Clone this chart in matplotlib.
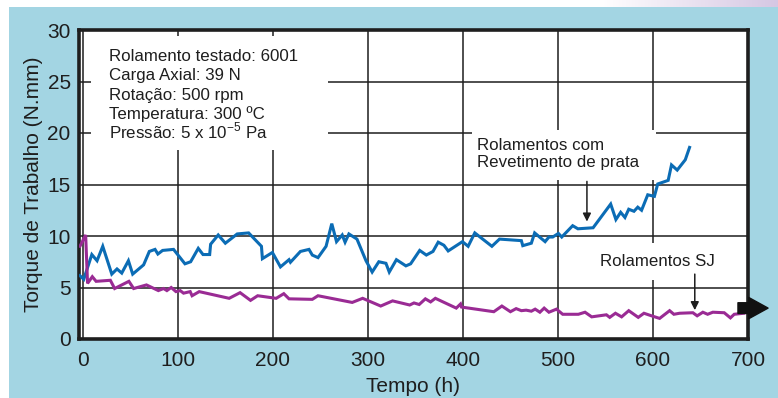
import numpy as np
import matplotlib
matplotlib.use("Agg")
import matplotlib.pyplot as plt
from matplotlib.patches import Rectangle

plt.rcParams['font.family'] = ['Liberation Sans', 'DejaVu Sans']

# Torque over time for the silver coated bearings (blue)
prata_t = [-3, 1, 9.5, 15, 21, 30.5, 36, 41, 48, 52.5, 64, 70, 76, 79, 84, 95.5,
           107.5, 113.5, 121.5, 126.5, 133.5, 134.5, 142.5, 150, 162.5, 174.5,
           188, 189, 199.5, 208, 217, 218.5, 229, 238, 241.5, 247.5, 256, 262,
           267, 273, 276, 280, 288.5, 298, 304.5, 311.5, 319, 322.5, 330, 340,
           345, 354.5, 361.5, 368.5, 374, 380, 384.5, 399.5, 405.5, 412.5, 430.5,
           438.5, 461.5, 463, 472, 475.5, 486.5, 490.5, 494.5, 500.5, 504, 515.5,
           521, 537, 555.5, 561, 566, 570.5, 574.5, 580, 584, 588, 594.5, 601.5,
           605, 616, 619.5, 625.5, 634, 638.5]
prata_torque = [6.15, 5.8, 8.2, 7.6, 9.0, 6.3, 6.8, 6.4, 7.6, 6.3, 7.2, 8.5, 8.7,
                8.25, 8.6, 8.7, 7.3, 7.5, 8.8, 8.2, 8.2, 9.2, 10.1, 9.3, 10.2, 10.3,
                9.0, 7.8, 8.4, 7.0, 7.7, 7.45, 8.5, 8.7, 8.15, 7.9, 9.0, 11.2, 9.45,
                10.1, 9.4, 10.2, 9.7, 7.6, 6.5, 7.5, 7.35, 6.5, 7.7, 7.1, 7.3, 8.6,
                8.15, 8.5, 9.4, 9.1, 8.55, 9.45, 9.0, 10.3, 9.0, 9.7, 9.55, 9.06,
                9.3, 10.3, 9.45, 9.9, 9.9, 10.25, 9.9, 11.0, 10.7, 10.8, 13.1, 11.6,
                12.3, 11.8, 12.6, 12.4, 12.8, 12.5, 14.0, 13.85, 15.05, 15.4, 16.9,
                16.4, 17.4, 18.6]

# Torque over time for the SJ bearings (purple)
sj_t = [-3, 3, 5, 10, 14, 29, 33.5, 48.5, 53.5, 67, 79.5, 85, 88.5, 93, 98,
        102.5, 106, 113, 115, 122.5, 154, 165.5, 176.5, 184, 203.5, 211.5, 217,
        241.5, 247.5, 283.5, 294.5, 313.5, 326, 344, 348.5, 354, 360.5, 366, 371,
        393, 397.5, 398.5, 432.5, 441, 450, 456, 461.5, 466.5, 472, 476, 481,
        485.5, 490.5, 498.5, 505, 521.5, 528.5, 535.5, 551, 554.5, 560.5, 567,
        574.5, 584.5, 590.5, 598.5, 607, 617.5, 622, 628, 642, 646.5, 652.5,
        657.5, 663, 675, 681.5, 685.5, 695.5]
sj_torque = [9.0, 10.1, 5.4, 6.05, 5.6, 5.7, 4.9, 5.6, 4.9, 5.25, 4.7, 4.9, 4.7,
             5.0, 4.6, 4.7, 4.45, 4.6, 4.2, 4.6, 3.95, 4.5, 3.75, 4.2, 3.95, 4.4,
             3.9, 3.85, 4.2, 3.55, 3.95, 3.2, 3.7, 3.3, 3.5, 3.35, 3.9, 3.6, 3.95,
             3.0, 3.4, 3.1, 2.65, 3.2, 2.65, 2.95, 2.75, 2.8, 2.7, 2.9, 2.6, 3.0,
             2.6, 2.9, 2.4, 2.4, 2.6, 2.15, 2.35, 2.1, 2.5, 2.15, 2.75, 2.1, 2.5,
             2.25, 2.0, 2.75, 2.4, 2.5, 2.55, 2.25, 2.6, 2.4, 2.6, 2.55, 2.05,
             2.4, 2.5]

x_ticks = [0, 100, 200, 300, 400, 500, 600, 700]
y_ticks = [0, 5, 10, 15, 20, 25, 30]

info_lines = ["Rolamento testado: 6001",
              "Carga Axial: 39 N",
              "Rotação: 500 rpm",
              "Temperatura: 300 ºC",
              "Pressão: 5 x 10$^{\\mathregular{-5}}$ Pa"]

bg_blue = "#a3d5e3"
blue = "#0b6cb5"
purple = "#9a2b94"
ink = "#1e1e1e"

W, H = 778, 398
fig = plt.figure(figsize=(W / 100, H / 100), dpi=100, facecolor="white")

# blue panel behind the chart, white margin on top and left
panel = fig.add_axes([9 / W, 0, 1 - 9 / W, 1 - 7 / H], zorder=-10)
panel.set_facecolor(bg_blue)
panel.set_xticks([])
panel.set_yticks([])
for s in panel.spines.values():
    s.set_visible(False)

# faint lavender fade in the top strip
grad_ax = fig.add_axes([600 / W, 1 - 7 / H, 178 / W, 7 / H], zorder=-10)
grad = np.linspace(0, 1, 256)[None, :]
lav = np.array([0.84, 0.78, 0.89])
img = (1 - grad[..., None]) * np.ones(3) + grad[..., None] * lav
grad_ax.imshow(img, aspect="auto", extent=(0, 1, 0, 1))
grad_ax.axis("off")

ax = fig.add_axes([79 / W, 1 - 339 / H, 669 / W, 309 / H])
ax.set_facecolor("white")
ax.set_xlim(-4, 700)
ax.set_ylim(0, 30)

ax.set_xticks(x_ticks)
ax.set_yticks(y_ticks)
ax.tick_params(length=0, labelsize=15, colors=ink)
ax.tick_params(axis="x", pad=9)
ax.tick_params(axis="y", pad=6)
ax.grid(True, color=ink, linewidth=1.1, zorder=1)
ax.set_axisbelow(True)
for s in ax.spines.values():
    s.set_linewidth(2.6)
    s.set_color(ink)

ax.set_xlabel("Tempo (h)", fontsize=15, color=ink, labelpad=5)
ax.set_ylabel("Torque de Trabalho (N.mm)", fontsize=15, color=ink, labelpad=3)

# white boxes that hide the grid behind the labels
for bx, by, bw, bh in [(0.018, 0.612, 0.354, 0.37),
                       (0.587, 0.515, 0.275, 0.16),
                       (0.762, 0.191, 0.206, 0.12)]:
    ax.add_patch(Rectangle((bx, by), bw, bh, transform=ax.transAxes,
                           fc="white", ec="none", zorder=1.5))

ax.plot(prata_t, prata_torque, color=blue, linewidth=2.2, zorder=3,
        solid_joinstyle="miter")
ax.plot(sj_t, sj_torque, color=purple, linewidth=2.2, zorder=3,
        solid_joinstyle="miter")

# test conditions, one baseline per line
for i, line in enumerate(info_lines):
    ax.text(0.045, 0.9 - i * 0.0625, line, transform=ax.transAxes,
            fontsize=12.2, color=ink, va="baseline", ha="left", zorder=4)

ax.annotate("", xy=(530.5, 11.4), xytext=(530.5, 15.3),
            arrowprops=dict(arrowstyle="-|>", color=ink, lw=1.1,
                            mutation_scale=12, shrinkA=0, shrinkB=0), zorder=4)
ax.text(0.595, 0.652, "Rolamentos com\nRevetimento de prata", transform=ax.transAxes,
        fontsize=12.2, color=ink, va="top", ha="left", linespacing=1.2, zorder=4)

ax.annotate("", xy=(644, 2.8), xytext=(644, 6.3),
            arrowprops=dict(arrowstyle="-|>", color=ink, lw=1.1,
                            mutation_scale=12, shrinkA=0, shrinkB=0), zorder=4)
ax.text(0.864, 0.25, "Rolamentos SJ", transform=ax.transAxes,
        fontsize=12.2, color=ink, va="center", ha="center", zorder=4)

# thick arrow leaving the plot on the right
ax.annotate("", xy=(1.03, 0.1), xytext=(0.985, 0.1), xycoords="axes fraction",
            textcoords="axes fraction",
            arrowprops=dict(arrowstyle="simple,head_width=1.1,head_length=1.0,tail_width=0.55",
                            color="#111111", shrinkA=0, shrinkB=0,
                            mutation_scale=14), annotation_clip=False, zorder=5)

fig.savefig("out.png", dpi=100, facecolor=fig.get_facecolor())
